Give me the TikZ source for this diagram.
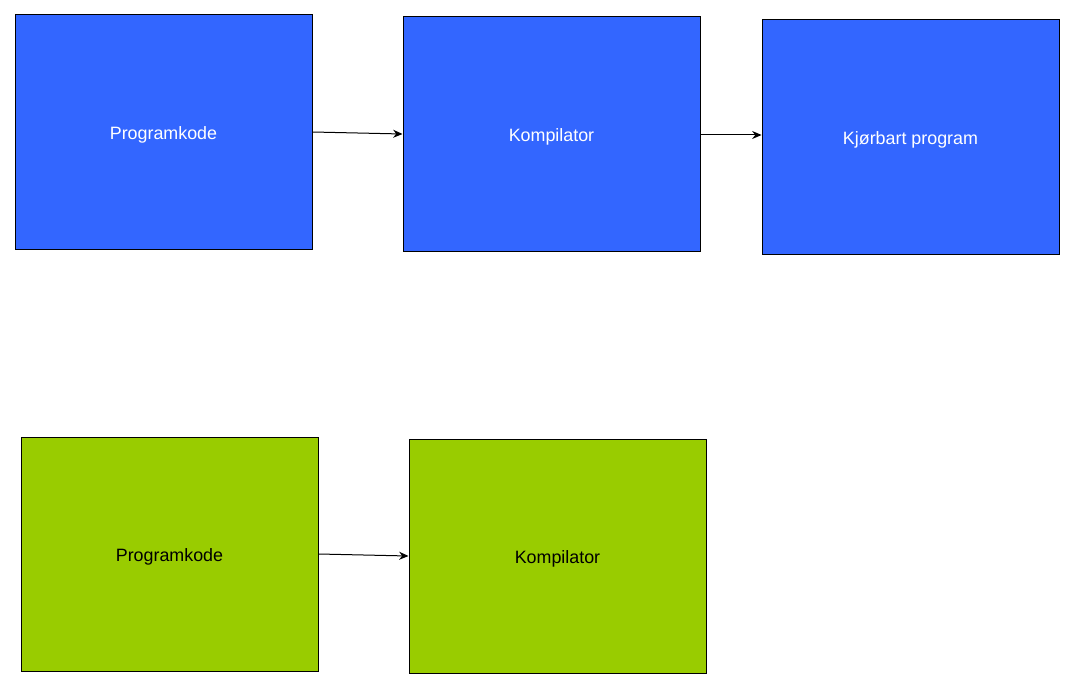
\documentclass[tikz,border=0pt]{standalone}
\usepackage{fontspec}
\setmainfont{Liberation Sans}
\usetikzlibrary{arrows.meta, positioning}
\definecolor{boxblue}{HTML}{3366FF}
\definecolor{boxgreen}{HTML}{99CC00}
\tikzset{
	stage/.style={draw=black, line width=0.75pt, minimum width=297*0.75pt, minimum height=234*0.75pt, inner sep=0pt, text height=11.5pt, text depth=0pt, font=\fontsize{13.4}{16}\selectfont},
	bluestage/.style={stage, fill=boxblue, text=white},
	greenstage/.style={stage, fill=boxgreen, text=black},
	flow/.style={-{Stealth[length=7pt, width=6pt]}, line width=0.75pt}
}
\begin{document}
\begin{tikzpicture}[x=0.75pt, y=-0.75pt]
				\useasboundingbox (0,0) rectangle (1074,688);
				\node[bluestage] (kode) at (163.5,132) {Programkode};
				\node[bluestage] (komp) at (551.5,134) {Kompilator};
				\node[bluestage] (kjor) at (910.5,137) {Kjørbart program};
				\node[greenstage] (gkode) at (169.5,554) {Programkode};
				\node[greenstage] (gkomp) at (557.5,556) {Kompilator};
				\draw[flow] (kode.east) -- (komp.west);
				\draw[flow] ([yshift=-0.75pt]komp.east) -- ([yshift=-0.75pt]komp.east -| kjor.west);
				\draw[flow] (gkode.east) -- (gkomp.west);
			\end{tikzpicture}
\end{document}
